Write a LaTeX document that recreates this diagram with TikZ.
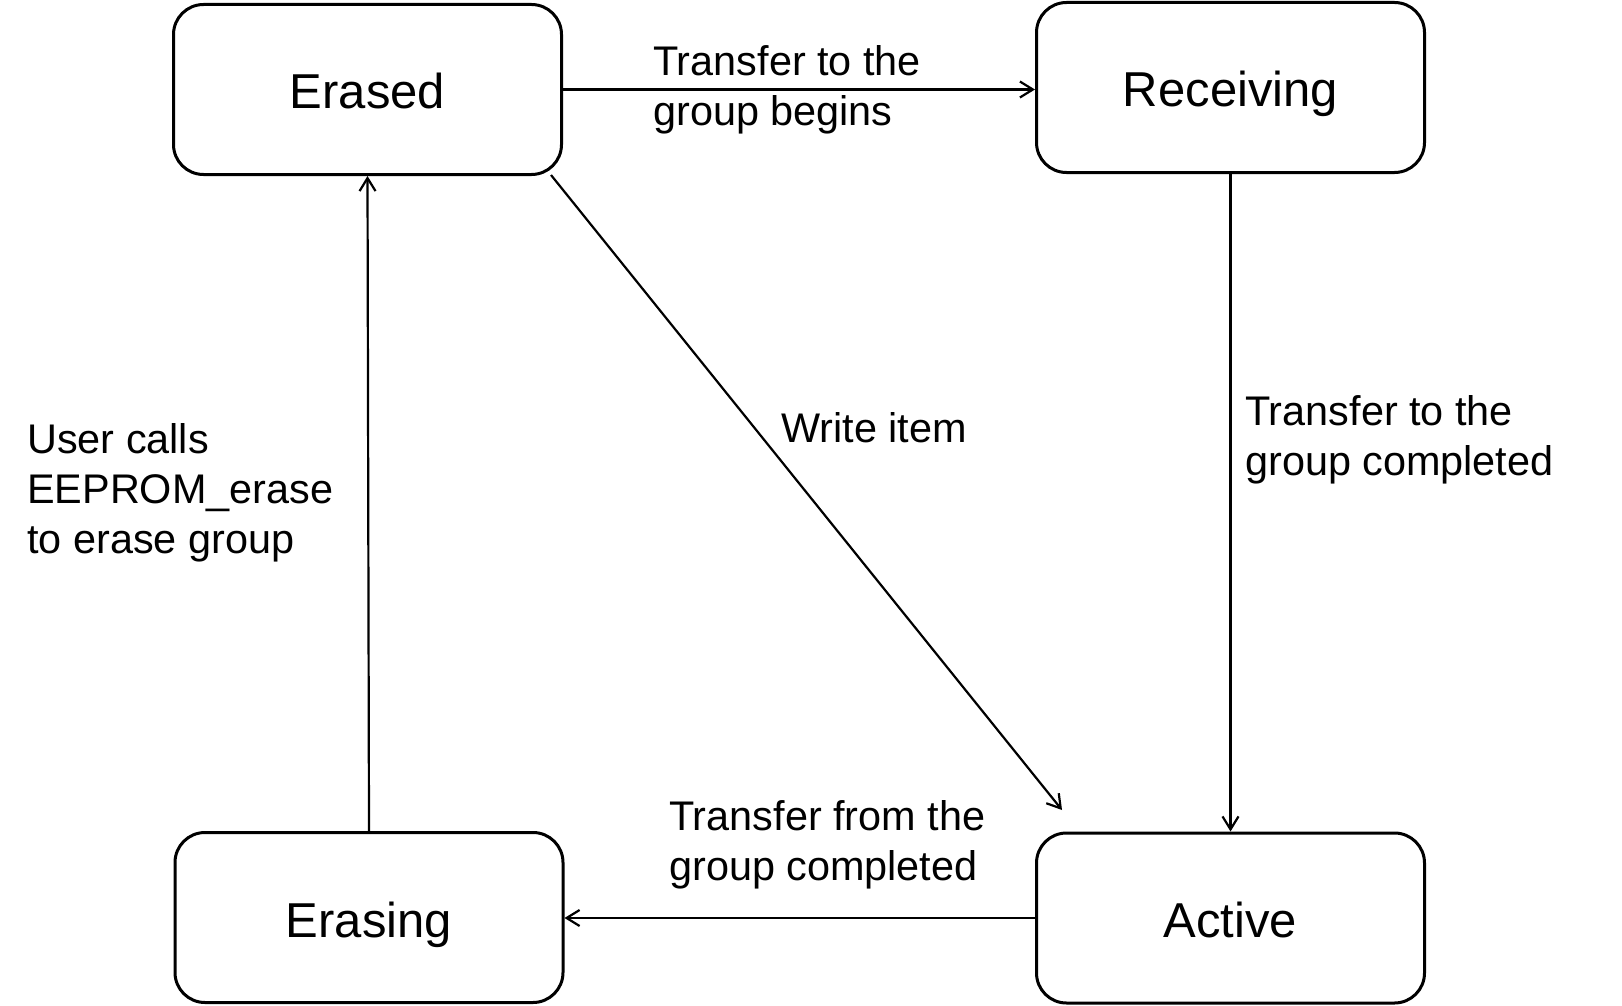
\documentclass[tikz,border=0pt]{standalone}
\usepackage{fontspec}
\setmainfont{Liberation Sans}
\usetikzlibrary{arrows.meta,calc}
\begin{document}
\begin{tikzpicture}[x=1pt,y=-1pt,
  statebox/.style={draw, line width=3pt, rounded corners=30pt, minimum width=388pt, minimum height=170pt, inner sep=0pt, text height=39pt, text depth=0pt, font=\fontsize{49}{58}\selectfont},
  lbl/.style={inner sep=0pt, align=left, anchor=west, font=\fontsize{41.4}{50}\selectfont},
  conn/.style={line width=2.2pt, -{Straight Barb[length=13pt,width=16pt,line width=2.2pt]}}]
\useasboundingbox (0,0) rectangle (1622,1006);
\node[statebox] (er) at (367.5,89.5) {Erased};
\node[statebox] (rc) at (1230.5,87.5) {Receiving};
\node[statebox] (es) at (369,917.5) {Erasing};
\node[statebox] (ac) at (1230.5,918) {Active};
\coordinate (wend) at (1062,810);
\draw[conn] (er.east) -- (er.east -| rc.west);
\draw[conn] (rc.south) -- (ac.north);
\draw[conn] (ac.west) -- (ac.west -| es.east);
\draw[conn] (es.north) -- (er.south);
\draw[conn] ([xshift=-12pt,yshift=1pt]er.south east) -- (wend);
\node[lbl] (l1) at (653,90) {Transfer to the\\group begins};
\node[lbl] (l2) at (781,428) {Write item};
\node[lbl] (l3) at (1245,440) {Transfer to the\\group completed};
\node[lbl] (l4) at (27,493) {User calls\\EEPROM\_erase\\to erase group};
\node[lbl] (l5) at (669,845) {Transfer from the\\group completed};
\end{tikzpicture}
\end{document}
